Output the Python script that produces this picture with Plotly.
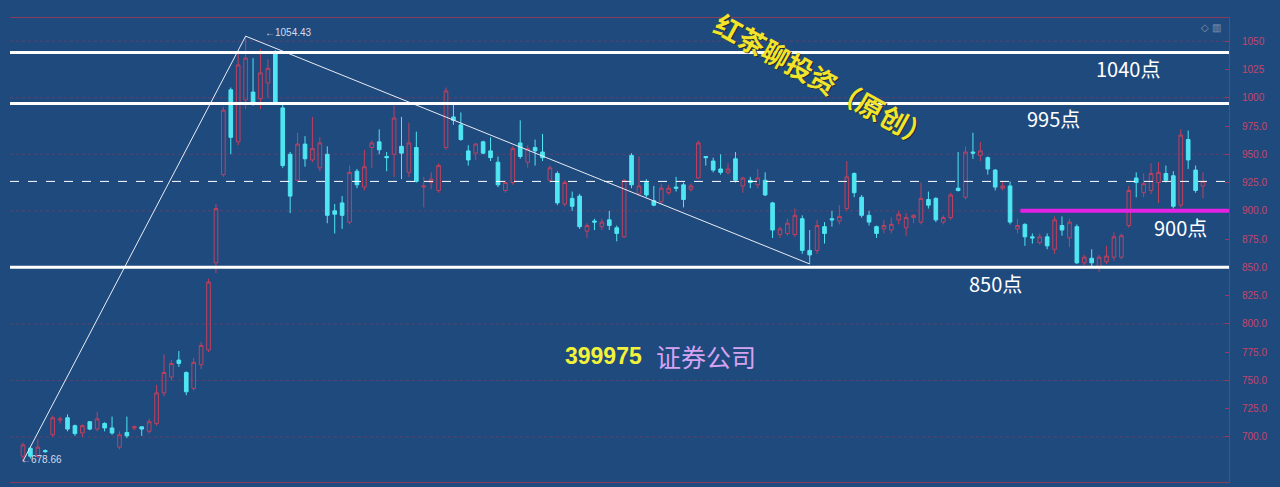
import plotly.graph_objects as go

# ---- data ----
opens = [683,690,683,688,702,715,717,710,703.5,713.5,707,712,708,691,704,708,709,705,712,739,
         753,768,757,743,764,777,854,932,1007,961,998,1005,999,1013,1040,991,950,927,959,945,
         938,950,900,907,890,935,921,956,961,948,950,957,934,956,921,925,918,956,983,976,
         953,951,961,953,943,918,925,960,943,956,952,927,933,906,911,913,882,891,886,892,
         885,877,949,915,925,909,908,916,921,923,919,929,948,944,937,934,946,922,927,923,
         927,907,879,880,879,893,865,865,886,893,891,902,933,912,896,886,884,883,892,885,
         894,890,910,911,890,894,920,912,952,949,947,936,920,922,884,888,877,872,877,866,
         887,876,886,854,858,850,855,859,859,887,929,916,918,925,933,931,905,963,936,922]
highs = [695,691,698,689,719,718,720,711,711,714,722,713,718,705,718,710,709,716,746,773,
         768,776,758,770,784,840,906,992,1009,1040,1054.43,1035,1043,1034,1042,995,952,969,966,983,
         965,957,906,913,940,937,954,962,972,952,993,983,978,970,930,934,942,1009,994,987,
         958,960,962,965,948,927,957,980,958,963,968,940,935,927,917,915,889,893,893,900,
         887,928,951,948,928,922,924,923,930,925,924,962,948,947,950,942,952,930,930,937,
         934,908,886,893,902,896,883,892,890,900,905,944,934,914,900,887,892,894,900,898,
         897,925,917,912,896,916,952,957,969,961,948,937,926,926,893,889,880,880,880,895,
         895,893,888,861,866,861,869,881,880,922,934,933,942,943,940,935,972,971,940,934]
lows = [678.66,681,681,686,700,712,705,701,700,706,705,705,702,689,699,706,701,703,710,736,
        750,762,737,741,760,775,845,930,950,958,990,993,990,1000,995,938,898,925,939,943,
        935,889,880,884,888,920,918,938,950,935,930,928,930,925,903,919,916,954,976,962,
        940,945,950,944,921,916,923,946,938,940,944,925,905,904,900,884,876,883,883,883,
        873,876,920,913,912,904,906,914,917,903,917,928,940,934,932,932,925,916,920,920,
        913,876,876,878,877,862,853,862,871,886,888,900,912,894,887,876,880,880,888,878,
        889,888,902,890,888,892,917,910,946,944,932,918,918,888,880,869,871,870,866,862,
        878,868,853,852,850,846,853,856,857,885,912,912,915,907,925,902,903,937,916,911]
closes = [693,683,691,687,717,716,707,703,710,707,716,708,703.5,702,701,709,707,713.5,739,757,
          765,765,740,766,781,837,902,989,965,1029,1035,996,1022,1026,996,940,913,959,946,955,
          960,896,897,896,934,923,939,960,954,947,982,951,960,926,922,928,940,1006,980,963,
          945,959,951,947,923,925,955,948,955,953,947,938,907,925,904,886,887,890,890,887,
          880,927,923,922,914,905,920,920,920,910,922,960,947,936,934,937,927,929,925,929,
          914,883,884,889,896,865,861,887,880,892,895,930,916,896,890,880,887,888,897,894,
          896,911,905,892,894,914,918,952,951,953,937,921,922,890,887,877,876,877,869,892,
          883,890,854,859,854,859,860,877,878,918,925,924,933,934,927,904,967,945,918,926]
x_idx = list(range(len(opens)))

levels_white = [1040, 995, 850]
level_magenta = 900
level_dotted = 926
grid_levels = [700, 750, 800, 850, 900, 950, 1000, 1050]
tick_vals = [700, 725, 750, 775, 800, 825, 850, 875, 900, 925, 950, 975, 1000, 1025, 1050]
tick_text = ["700.0", "725.0", "750.0", "775.0", "800.0", "825.0", "850.0", "875.0",
             "900.0", "925.0", "950.0", "975.0", "1000", "1025", "1050"]
# trend line anchors: (candle index, price)
trend_idx = [0, 30, 106]
trend_val = [678.66, 1054.43, 853]

BG = "#1f4a7e"
RED = "#c0405e"
CYAN = "#4fe6f2"
XMIN, XMAX = -1.75, 162.5
YMIN, YMAX = 660.2, 1070.5

fig = go.Figure()

fig.add_trace(go.Candlestick(
    x=x_idx, open=opens, high=highs, low=lows, close=closes,
    increasing=dict(line=dict(color=RED, width=1), fillcolor="rgba(0,0,0,0)"),
    decreasing=dict(line=dict(color=CYAN, width=1), fillcolor=CYAN),
    whiskerwidth=0, showlegend=False, hoverinfo="skip"))

fig.add_trace(go.Scatter(x=trend_idx, y=trend_val, mode="lines",
                         line=dict(color="#e8ecf4", width=1), showlegend=False, hoverinfo="skip"))

shapes = []
for g in grid_levels:
    shapes.append(dict(type="line", xref="x", yref="y", x0=XMIN, x1=XMAX, y0=g, y1=g,
                       line=dict(color="rgba(170,60,90,0.4)", width=1, dash="dot"), layer="below"))
for lv in levels_white:
    shapes.append(dict(type="line", xref="x", yref="y", x0=XMIN, x1=XMAX, y0=lv, y1=lv,
                       line=dict(color="white", width=3)))
shapes.append(dict(type="line", xref="x", yref="y", x0=XMIN, x1=XMAX, y0=level_dotted, y1=level_dotted,
                   line=dict(color="white", width=1, dash="dash")))
shapes.append(dict(type="line", xref="x", yref="y", x0=134.4, x1=XMAX, y0=level_magenta, y1=level_magenta,
                   line=dict(color="#e322e3", width=4)))

ann = []
def label(x, y, text, size, color, xanchor="center", bold=False, angle=0, family="Noto Sans CJK SC"):
    ann.append(dict(x=x, y=y, xref="x", yref="y", text=("<b>%s</b>" % text) if bold else text,
                    showarrow=False, xanchor=xanchor, yanchor="middle", textangle=angle,
                    font=dict(size=size, color=color, family=family)))

label(148.9, 1026, "1040点", 20, "white")
label(138.8, 982, "995点", 20, "white")
label(131.0, 836, "850点", 20, "white")
label(156.0, 885, "900点", 20, "white")
label(32.3, 1058, "←1054.43", 10, "#d8dce8", xanchor="left", family="Liberation Sans")
label(-0.5, 680, "←678.66", 10, "#d8dce8", xanchor="left", family="Liberation Sans")
label(78.2, 772, "399975", 23, "#f2f23a", bold=True, family="Liberation Sans")
label(92.0, 772, "证券公司", 25, "#d6a2f2")
# rotated watermark with shadow
label(108.0, 1015.0, "红茶聊投资（原创）", 27, "#202020", angle=29, bold=True)
label(107.8, 1015.7, "红茶聊投资（原创）", 27, "#f2e42a", angle=29, bold=True)
ann.append(dict(x=0.985, y=1.0, xref="paper", yref="paper", text="◇ ▥", showarrow=False,
                xanchor="center", yanchor="top", font=dict(size=10, color="#8894aa")))

fig.update_layout(
    width=1280, height=487, autosize=False,
    margin=dict(l=10, r=51, t=18, b=5),
    paper_bgcolor=BG, plot_bgcolor=BG,
    shapes=shapes, annotations=ann, showlegend=False,
    xaxis=dict(range=[XMIN, XMAX], showgrid=False, zeroline=False, showticklabels=False,
               rangeslider=dict(visible=False), showline=True, mirror=True,
               linecolor="#8a3a5a", linewidth=1, ticks=""),
    yaxis=dict(range=[YMIN, YMAX], side="right", showgrid=False, zeroline=False,
               tickvals=tick_vals, ticktext=tick_text, ticks="inside", ticklen=4,
               tickcolor="#a03858", showline=True, linecolor="#8a3a5a", linewidth=1,
               ticklabelstandoff=10,
               tickfont=dict(size=10, color="#c4466a", family="Liberation Sans")),
)

fig.write_html("out.html", config={"displayModeBar": False},
               post_script="document.body.style.margin='0';document.body.style.background='%s';" % BG)
